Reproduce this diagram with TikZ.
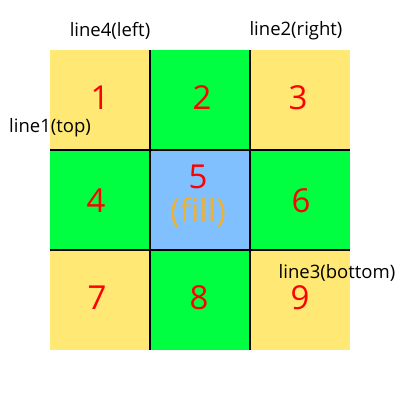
\documentclass[tikz,border=0pt]{standalone}
\usepackage{fontspec}
\setmainfont{Open Sans}
\definecolor{cy}{HTML}{FFE873}
\definecolor{cg}{HTML}{00FF40}
\definecolor{cb}{HTML}{80C0FF}
\definecolor{cr}{HTML}{FF0000}
\definecolor{co}{HTML}{F0B030}
\begin{document}
\begin{tikzpicture}[x=1pt,y=-1pt,
  num/.style={text=cr,font=\fontsize{33}{36}\selectfont,inner sep=0pt},
  lab/.style={text=black,font=\fontsize{18.5}{20}\selectfont,inner sep=0pt},
  gridline/.style={line width=2pt,black}]
\useasboundingbox (0,0) rectangle (400,400);
\fill[white] (0,0) rectangle (400,400);
\fill[cy] (50,50) rectangle (150,150);
\fill[cg] (150,50) rectangle (250,150);
\fill[cy] (250,50) rectangle (350,150);
\fill[cg] (50,150) rectangle (150,250);
\fill[cb] (150,150) rectangle (250,250);
\fill[cg] (250,150) rectangle (350,250);
\fill[cy] (50,250) rectangle (150,350);
\fill[cg] (150,250) rectangle (250,350);
\fill[cy] (250,250) rectangle (350,350);
\coordinate (v1t) at (150,50); \coordinate (v1b) at (150,350);
\coordinate (v2t) at (250,50); \coordinate (v2b) at (250,350);
\coordinate (h1l) at (50,150); \coordinate (h1r) at (350,150);
\coordinate (h2l) at (50,250); \coordinate (h2r) at (350,250);
\draw[gridline] (v1t) -- (v1b);
\draw[gridline] (v2t) -- (v2b);
\draw[gridline] (h1l) -- (h1r);
\draw[gridline] (h2l) -- (h2r);
\node[num] (n1) at (100,98) {1};
\node[num] (n2) at (202,98) {2};
\node[num] (n3) at (298,98) {3};
\node[num] (n4) at (96,201) {4};
\node[num] (n5) at (198,177) {5};
\node[num,text=co] (fill) at (198,212) {(fill)};
\node[num] (n6) at (301,201) {6};
\node[num] (n7) at (97,298) {7};
\node[num] (n8) at (199,298) {8};
\node[num] (n9) at (300,298) {9};
\node[lab] (l4) at (110,31) {line4(left)};
\node[lab] (l2) at (296,31) {line2(right)};
\node[lab] (l1) at (50,128) {line1(top)};
\node[lab] (l3) at (337,273) {line3(bottom)};
\end{tikzpicture}
\end{document}
